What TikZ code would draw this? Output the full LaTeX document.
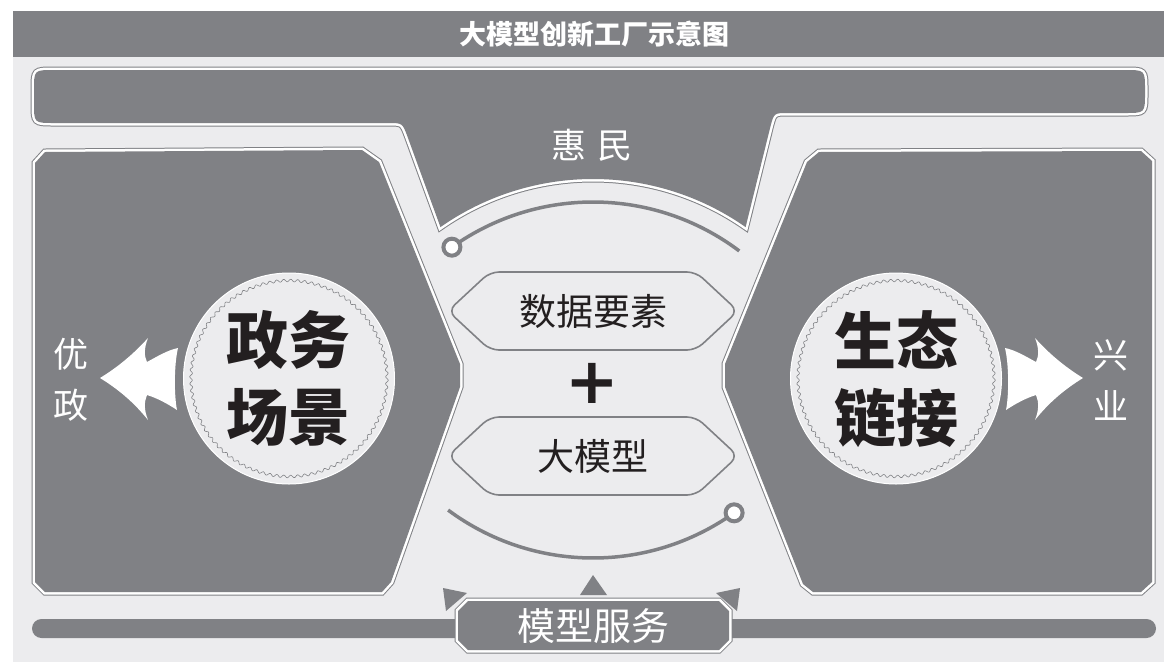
\documentclass[tikz,border=0pt]{standalone}
\usepackage{fontspec}
\newfontfamily\cjk{Noto Sans CJK SC}
\newfontfamily\symf{DejaVu Sans}
\usetikzlibrary{calc}
\definecolor{gry}{RGB}{128,129,133}
\definecolor{lgt}{RGB}{236,236,238}
\definecolor{ink}{RGB}{35,31,32}
\begin{document}
\begin{tikzpicture}[x=1pt,y=-1pt,
  dbl/.style={fill=gry, preaction={draw=gry, line width=7pt}, preaction={draw=white, line width=5pt}},
  hexbox/.style={draw=gry, line width=1.6pt, fill=lgt, rounded corners=9pt},
  arcline/.style={draw=gry, line width=3.5pt},
  dotnode/.style={circle, draw=gry, line width=4pt, fill=white, minimum size=17pt, inner sep=0pt},
  wavy/.style={draw=gry, line width=0.6pt},
  disc/.style={circle, fill=lgt, draw=white, line width=1pt, minimum size=211pt, inner sep=0pt},
  wtxt/.style={text=white, inner sep=0pt, align=center},
  btxt/.style={text=ink, inner sep=0pt, align=center},
]
\useasboundingbox (0,0) rectangle (1164,662);
\fill[white] (0,0) rectangle (1164,662);
\fill[lgt] (13,11) rectangle (1164,662);
\fill[gry] (13,11) rectangle (1164,57);
\node[wtxt, font=\cjk\bfseries\fontsize{27}{27}\selectfont] (title) at (594,34) {大模型创新工厂示意图};

% T shape
\path[dbl] (54,70) -- (1125,70) .. controls (1145,70) .. (1145,90) -- (1145,93)
  .. controls (1145,113) .. (1125,113) -- (788,113) .. controls (774,113) .. (770.4,126.6)
  -- (745.6,227.1) arc[start angle=-55, end angle=-125, radius=266]
  -- (407.3,136.1) .. controls (402.4,123) .. (388,123) -- (54,123)
  .. controls (34,123) .. (34,103) -- (34,90) .. controls (34,70) .. (54,70) -- cycle;
\node[wtxt, font=\cjk\fontsize{35}{35}\selectfont] (huimin) at (592,145) {惠\hspace{12pt}民};

% side panels
\path[dbl] (35,163) -- (45,152) -- (362,150) -- (379,162) -- (460,364) -- (460,387)
  -- (391,582) -- (382,592) -- (45,592) -- (35,582) -- cycle;
\path[dbl] (807,162) -- (819,152) -- (1141,151) -- (1152,161) -- (1152,582) -- (1141,592)
  -- (813,592) -- (803,584) -- (725,387) -- (725,364) -- cycle;

% arcs with dots
\draw[arcline] (593,445) ++(-125.5:243) arc[start angle=-125.5, end angle=-53, radius=243];
\node[dotnode] (dotA) at ($(593,445)+(-125.5:243)$) {};
\draw[arcline] (593,315) ++(126.6:243) arc[start angle=126.6, end angle=54.5, radius=243];
\node[dotnode] (dotB) at ($(593,315)+(54.5:243)$) {};

% center boxes
\draw[hexbox] (448,311) -- (490,272) -- (696,272) -- (738,311) -- (696,350) -- (490,350) -- cycle;
\node[btxt, font=\cjk\fontsize{37}{37}\selectfont] (data) at (593,311) {数据要素};
\node[btxt, font=\symf\bfseries\fontsize{64}{64}\selectfont] (plus) at (592,383) {+};
\draw[hexbox] (448,456) -- (490,417) -- (696,417) -- (738,456) -- (696,495) -- (490,495) -- cycle;
\node[btxt, font=\cjk\fontsize{37}{37}\selectfont] (model) at (593,456) {大模型};

% discs
\node[disc] (discL) at (289,378.5) {};
\draw[wavy] plot[domain=0:88, samples=705] ({289+(98+1.3*sin(360*(\x-floor(\x))))*cos(\x*4.0909)}, {378.5+(98+1.3*sin(360*(\x-floor(\x))))*sin(\x*4.0909)}) -- cycle;
\node[btxt, font=\cjk\bfseries\fontsize{62}{77}\selectfont] (gov) at (288,378.5) {政务\\场景};
\node[disc] (discR) at (896,378.5) {};
\draw[wavy] plot[domain=0:88, samples=705] ({896+(98+1.3*sin(360*(\x-floor(\x))))*cos(\x*4.0909)}, {378.5+(98+1.3*sin(360*(\x-floor(\x))))*sin(\x*4.0909)}) -- cycle;
\node[btxt, font=\cjk\bfseries\fontsize{62}{77}\selectfont] (eco) at (896,379) {生态\\链接};

% arrows
\fill[white] (100,378) .. controls (118,367) and (134,353.6) .. (148,338)
  .. controls (144,348) and (144,356) .. (147,362)
  .. controls (158,356) and (168,350) .. (178,348)
  .. controls (174,365) and (174,395) .. (177,410)
  .. controls (168,404) and (157,398) .. (147,395)
  .. controls (144,402) and (144,410) .. (148,420)
  .. controls (134,402.4) and (118,389) .. (100,378) -- cycle;
\fill[white] (1083,378) .. controls (1065,367) and (1049,353.6) .. (1035,338)
  .. controls (1039,348) and (1039,356) .. (1036,362)
  .. controls (1025,356) and (1015,350) .. (1005,348)
  .. controls (1009,365) and (1009,395) .. (1006,410)
  .. controls (1015,404) and (1026,398) .. (1036,395)
  .. controls (1039,402) and (1039,410) .. (1035,420)
  .. controls (1049,402.4) and (1065,389) .. (1083,378) -- cycle;
\node[wtxt, font=\cjk\fontsize{35}{51}\selectfont] (youzheng) at (71,380) {优\\政};
\node[wtxt, font=\cjk\fontsize{35}{51}\selectfont] (xingye) at (1111,380) {兴\\业};

% bottom
\fill[gry, rounded corners=9.5pt] (32,619) rectangle (1156,638);
\path[dbl] (468,601) -- (719,601) -- (729,611) -- (729,640) -- (719,650) -- (468,650) -- (458,640) -- (458,611) -- cycle;
\node[wtxt, font=\cjk\fontsize{38}{38}\selectfont] (service) at (593,626) {模型服务};
\fill[gry] (593,575) -- (607,595) -- (580,595) -- cycle;
\fill[gry] (443,588) -- (467,593) -- (446,611) -- cycle;
\fill[gry] (740,588) -- (716,593) -- (737,611) -- cycle;
\end{tikzpicture}
\end{document}
